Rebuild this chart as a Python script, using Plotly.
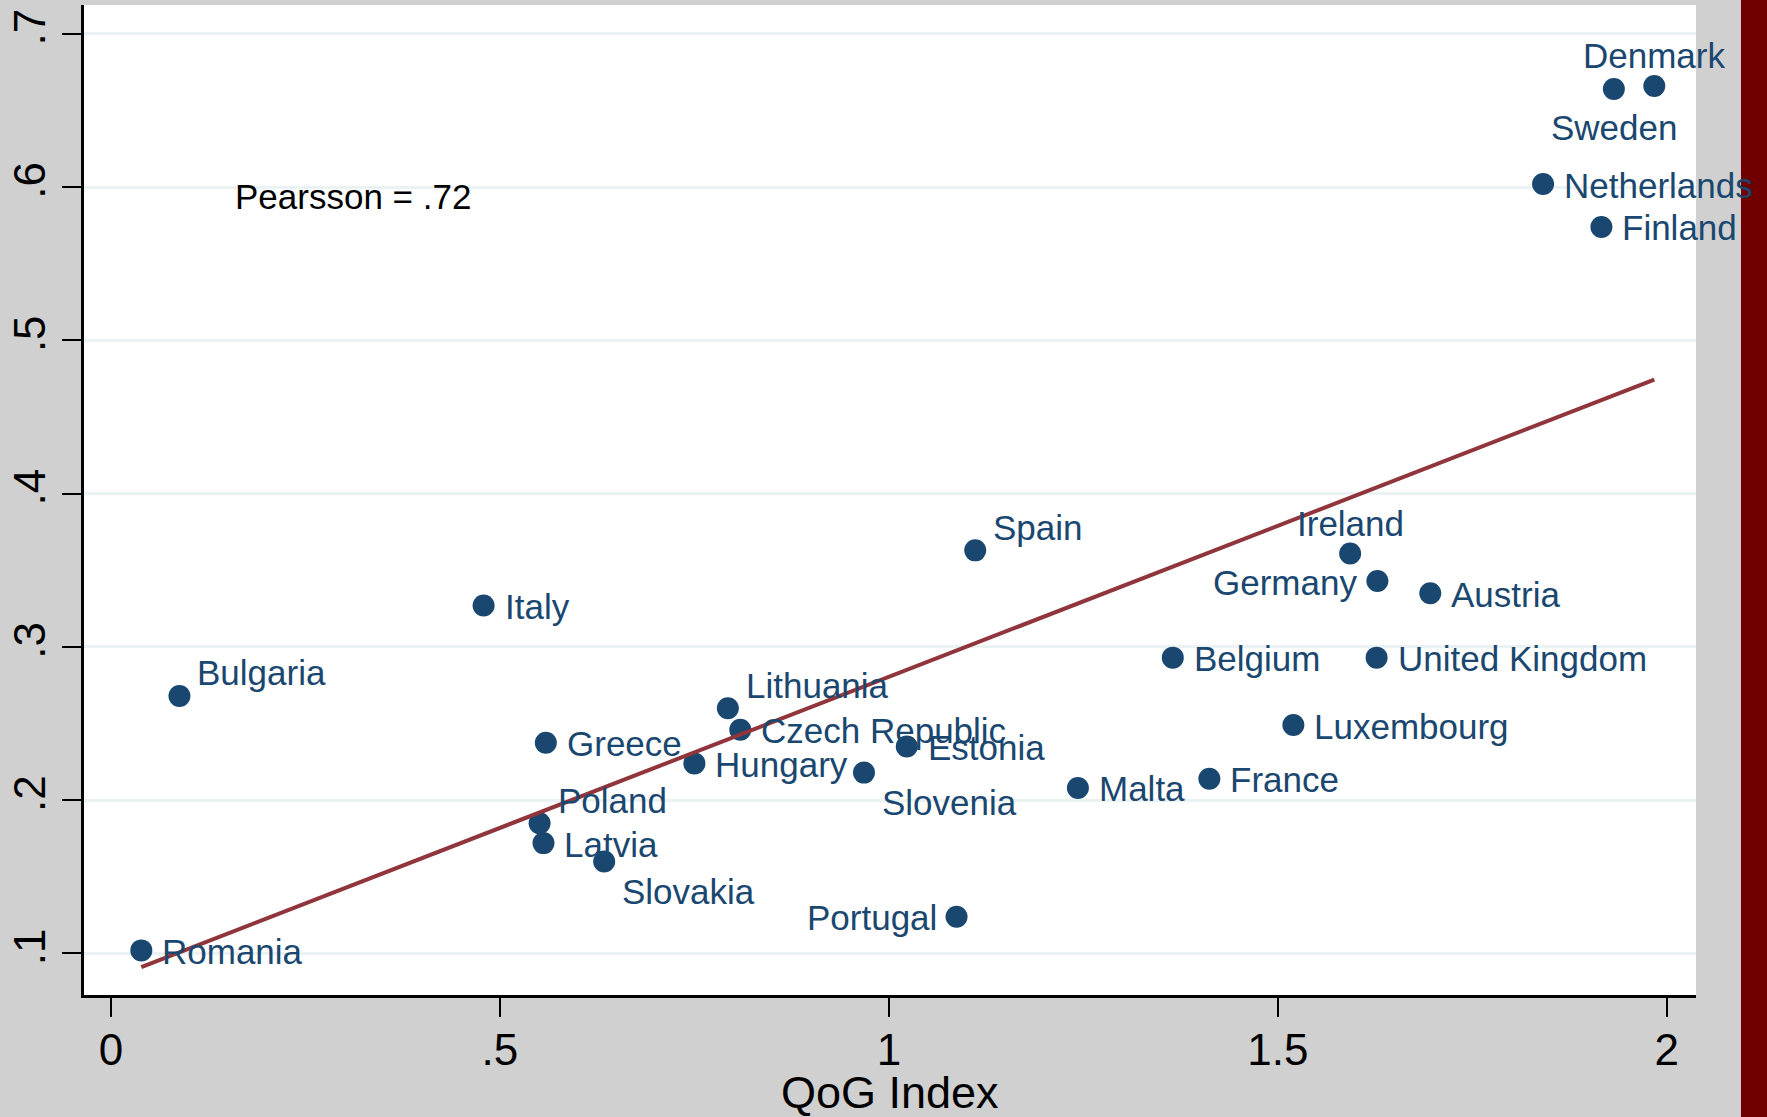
import numpy as np
import plotly.graph_objects as go

# Country-level observations: QoG index (x) against the outcome share (y)
countries = [
    "Denmark", "Sweden", "Netherlands", "Finland", "Spain", "Ireland",
    "Germany", "Austria", "Italy", "Belgium", "United Kingdom", "Bulgaria",
    "Lithuania", "Czech Republic", "Luxembourg", "Greece", "Estonia",
    "Hungary", "Slovenia", "France", "Malta", "Poland", "Latvia",
    "Slovakia", "Portugal", "Romania",
]
qog_index = [
    1.984, 1.932, 1.841, 1.916, 1.111, 1.593,
    1.628, 1.696, 0.479, 1.365, 1.627, 0.088,
    0.793, 0.809, 1.520, 0.559, 1.023,
    0.750, 0.968, 1.412, 1.243, 0.551, 0.556,
    0.634, 1.087, 0.039,
]
outcome = [
    0.666, 0.664, 0.602, 0.574, 0.363, 0.361,
    0.343, 0.335, 0.327, 0.293, 0.293, 0.268,
    0.260, 0.246, 0.249, 0.2375, 0.235,
    0.224, 0.218, 0.214, 0.208, 0.185, 0.172,
    0.160, 0.124, 0.102,
]

x_tick_vals = [0, 0.5, 1, 1.5, 2]
x_tick_text = ["0", ".5", "1", "1.5", "2"]
y_tick_vals = [0.1, 0.2, 0.3, 0.4, 0.5, 0.6, 0.7]
y_tick_text = [".1", ".2", ".3", ".4", ".5", ".6", ".7"]

x_title = "QoG Index"
note_text = "Pearsson = .72"

# Label placement, as clock positions around each marker (default: 3 o'clock)
label_clock = {
    "Denmark": 12, "Sweden": 6, "Ireland": 12, "Germany": 9, "Portugal": 9,
    "Spain": 1, "Bulgaria": 1, "Lithuania": 1, "Poland": 1,
    "Slovenia": 5, "Slovakia": 5,
}
clock_style = {
    3: dict(xanchor="left", yanchor="middle", xshift=19, yshift=-1),
    9: dict(xanchor="right", yanchor="middle", xshift=-18, yshift=-1),
    12: dict(xanchor="center", yanchor="middle", xshift=0, yshift=30),
    6: dict(xanchor="center", yanchor="middle", xshift=0, yshift=-39),
    1: dict(xanchor="left", yanchor="middle", xshift=16, yshift=23),
    5: dict(xanchor="left", yanchor="middle", xshift=16, yshift=-30),
}

NAVY = "#1a476f"
MAROON = "#90353b"
FONT = "Liberation Sans, Arial, sans-serif"

x_arr = np.array(qog_index)
y_arr = np.array(outcome)

# Linear fit across the observed range of the index
slope, intercept = np.polyfit(x_arr, y_arr, 1)
fit_x = np.array([x_arr.min(), x_arr.max()])
fit_y = intercept + slope * fit_x

fig = go.Figure()

fig.add_trace(go.Scatter(
    x=qog_index, y=outcome, mode="markers",
    marker=dict(size=22, color=NAVY, line=dict(width=0)),
    showlegend=False, hoverinfo="text", text=countries,
))

fig.add_trace(go.Scatter(
    x=fit_x, y=fit_y, mode="lines",
    line=dict(color=MAROON, width=4),
    showlegend=False, hoverinfo="skip",
))

annotations = []
for name, xv, yv in zip(countries, qog_index, outcome):
    style = clock_style[label_clock.get(name, 3)]
    annotations.append(dict(
        x=xv, y=yv, xref="x", yref="y", text=name, showarrow=False,
        font=dict(family=FONT, size=35, color=NAVY), **style,
    ))

annotations.append(dict(
    x=0.157, y=0.594, xref="x", yref="y", text=note_text, showarrow=False,
    xanchor="left", yanchor="middle",
    font=dict(family=FONT, size=35, color="black"),
))

annotations.append(dict(
    x=0.5, y=-0.098, xref="paper", yref="paper", text=x_title, showarrow=False,
    xanchor="center", yanchor="middle",
    font=dict(family=FONT, size=45, color="black"),
))

shapes = [
    # dark band along the right edge of the page
    dict(type="rect", xref="paper", yref="paper",
         x0=1.0279, x1=1.06, y0=-0.2, y1=1.1,
         fillcolor="#700000", line=dict(width=0), layer="below"),
]

fig.update_layout(
    width=1767, height=1117, autosize=False,
    margin=dict(l=82, r=71, t=5, b=122, pad=0),
    paper_bgcolor="#d0d0d0", plot_bgcolor="white",
    font=dict(family=FONT, color="black"),
    annotations=annotations, shapes=shapes,
    showlegend=False,
)

fig.update_xaxes(
    range=[-0.0347, 2.0376], tickvals=x_tick_vals, ticktext=x_tick_text,
    showgrid=False, zeroline=False, showline=True, linecolor="black",
    linewidth=2.5, ticks="outside", ticklen=19, tickwidth=2,
    tickcolor="black", tickfont=dict(family=FONT, size=44, color="black"),
    ticklabelstandoff=-5,
)
fig.update_yaxes(
    range=[0.0729, 0.7188], tickvals=y_tick_vals, ticktext=y_tick_text,
    showgrid=True, gridcolor="#eaf2f3", gridwidth=3, zeroline=False,
    showline=True, linecolor="black", linewidth=2.5, ticks="outside",
    ticklen=19, tickwidth=2, tickcolor="black", tickangle=-90,
    tickfont=dict(family=FONT, size=44, color="black"),
)

fig.write_html("out.html")
